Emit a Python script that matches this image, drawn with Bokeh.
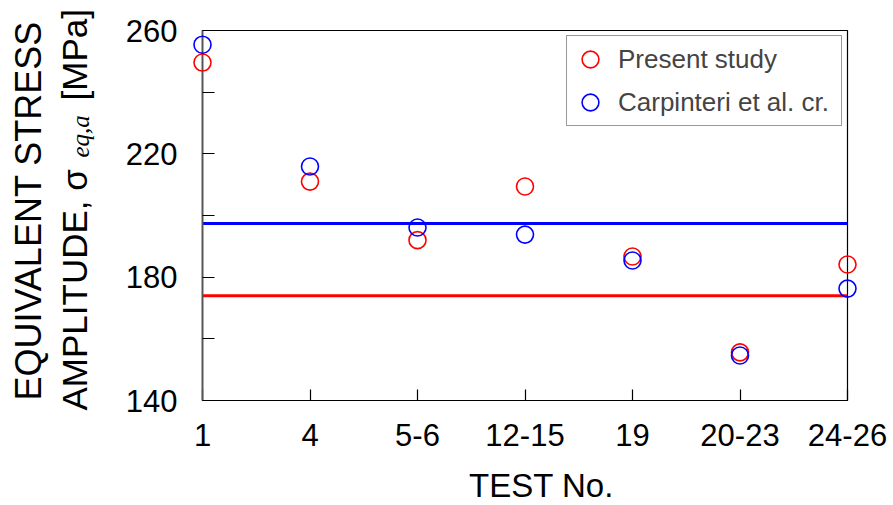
import math
from bokeh.plotting import figure
from bokeh.models import (ColumnDataSource, FixedTicker, Range1d, Span,
                          Legend, LegendItem)
from bokeh.core.properties import value
from bokeh.embed import file_html
from bokeh.resources import INLINE

# ---- data ----
tests = ["1", "4", "5-6", "12-15", "19", "20-23", "24-26"]
present_study = [249.6, 211.0, 192.0, 209.4, 186.7, 155.6, 184.1]
carpinteri = [255.4, 215.9, 196.1, 193.8, 185.4, 154.6, 176.3]
present_ref_level = 174.0
carpinteri_ref_level = 197.4
y_ticks = [140, 180, 220, 260]
y_minor_ticks = [160, 200, 240]
y_min, y_max = 140, 260

idx = list(range(len(tests)))
src = ColumnDataSource(dict(x=idx, present=present_study, carp=carpinteri))

FONT = "Liberation Sans"
W, H = 890, 505
BL, BR, BT, BB = 202, 43, 30, 105       # borders around the frame (px)
FW, FH = W - BL - BR, H - BT - BB       # frame size (px)

p = figure(width=W, height=H, output_backend="svg", toolbar_location=None,
           x_range=Range1d(0, len(tests) - 1), y_range=Range1d(y_min, y_max),
           min_border_left=BL, min_border_right=BR, min_border_top=BT,
           min_border_bottom=BB)
p.background_fill_color = "white"
p.border_fill_color = "white"
p.outline_line_color = "black"
p.outline_line_width = 1.2
p.xgrid.visible = False
p.ygrid.visible = False

# x axis
xa = p.xaxis[0]
xa.ticker = FixedTicker(ticks=idx)
xa.major_label_overrides = {i: t for i, t in enumerate(tests)}
xa.major_tick_in = 11
xa.major_tick_out = 0
xa.minor_tick_line_color = None
xa.major_label_text_font = FONT
xa.major_label_text_font_size = "31px"
xa.major_label_text_color = "black"
xa.major_label_standoff = 23
xa.axis_line_color = "black"
xa.axis_line_width = 1.2
xa.major_tick_line_color = "black"
xa.major_tick_line_width = 1.2

# y axis
ya = p.yaxis[0]
ya.ticker = FixedTicker(ticks=y_ticks, minor_ticks=y_minor_ticks)
ya.major_tick_in = 12
ya.major_tick_out = 0
ya.minor_tick_in = 12
ya.minor_tick_out = 0
ya.major_label_text_font = FONT
ya.major_label_text_font_size = "31px"
ya.major_label_text_color = "black"
ya.major_label_standoff = 25
ya.axis_line_color = "#555555"
ya.axis_line_width = 1.8
ya.major_tick_line_color = "black"
ya.minor_tick_line_color = "black"
ya.major_tick_line_width = 1.2
ya.minor_tick_line_width = 1.2

# reference levels
p.add_layout(Span(location=carpinteri_ref_level, dimension="width",
                  line_color="#0000ff", line_width=3, level="glyph"))
p.add_layout(Span(location=present_ref_level, dimension="width",
                  line_color="#ff0000", line_width=3, level="glyph"))

r_red = p.scatter("x", "present", source=src, marker="circle", size=17,
                  fill_color=None, line_color="#ff0000", line_width=1.6)
r_blue = p.scatter("x", "carp", source=src, marker="circle", size=17,
                   fill_color=None, line_color="#0000ff", line_width=1.6)
r_red.level = "overlay"
r_blue.level = "overlay"

legend = Legend(items=[LegendItem(label="Present study", renderers=[r_red]),
                       LegendItem(label="Carpinteri et al. cr.", renderers=[r_blue])],
                location="top_right", margin=5, padding=2, spacing=1,
                glyph_width=42, glyph_height=42, label_standoff=7,
                label_width=221,
                label_text_font=FONT, label_text_font_size="26px",
                border_line_color="#333333", border_line_width=1,
                background_fill_alpha=1.0)
p.add_layout(legend)


# ---- axis titles: text placed in the margins (unclipped overlay) ----
def to_dx(px):
    return (px - BL) / FW * (len(tests) - 1)


def to_dy(py):
    return y_min + (BT + FH - py) / FH * (y_max - y_min)


ang = math.pi / 2
sans_src = ColumnDataSource(dict(
    x=[to_dx(28), to_dx(74), to_dx(74)],
    y=[to_dy(400), to_dy(410), to_dy(100)],
    t=["EQUIVALENT STRESS", "AMPLITUDE, σ", "[MPa]"],
    s=["36px", "35px", "35px"]))
t1 = p.text(x="x", y="y", text="t", source=sans_src, angle=ang,
            text_font=value(FONT), text_font_size="s", text_align="left",
            text_baseline="alphabetic", text_color="black")
sub_src = ColumnDataSource(dict(x=[to_dx(80)], y=[to_dy(157)], t=["eq,a"]))
t2 = p.text(x="x", y="y", text="t", source=sub_src, angle=ang,
            text_font=value("Liberation Serif"), text_font_style="italic",
            text_font_size="25px", text_align="left",
            text_baseline="alphabetic", text_color="black")
xt_src = ColumnDataSource(dict(x=[to_dx(541)], y=[to_dy(485)], t=["TEST No."]))
t3 = p.text(x="x", y="y", text="t", source=xt_src,
            text_font=value(FONT), text_font_size="33px", text_align="center",
            text_baseline="alphabetic", text_color="black")
for r in (t1, t2, t3):
    r.level = "overlay"

open("out.html", "w").write(file_html(p, INLINE))
